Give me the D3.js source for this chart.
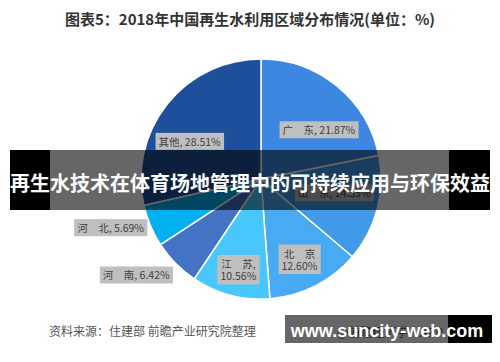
<!DOCTYPE html>
<html><head><meta charset="utf-8">
<script src="https://cdn.jsdelivr.net/npm/d3@7"></script>
<style>body{margin:0;background:#fff}svg{display:block}</style>
</head><body><svg id="c" width="500" height="362"></svg>
<script>
// ---- data ----
const title = "图表5：2018年中国再生水利用区域分布情况(单位：%)";
const categories = ["广　东", "山　东", "北　京", "江　苏", "河　南", "河　北", "其他"];
const values = [21.87, 14.35, 12.60, 10.56, 6.42, 5.69, 28.51];
const source = "资料来源：住建部 前瞻产业研究院整理";
const banner = "再生水技术在体育场地管理中的可持续应用与环保效益";
const watermark = "www.suncity-web.com";
const appMark = "@前瞻经济学人APP";

// ---- style ----
const colors = ["#3d87e0", "#3f9be9", "#47aaf2", "#48c7fc", "#4472c4", "#00b0f0", "#1e4f9a"];
const labelStyle = [
  {r: 85, dx: 4, dy: 17, wrap: false},
  {r: 85, dx: -9, dy: -7, wrap: false},
  {r: 85, dx: 0, dy: 5, wrap: true, sep: ""},
  {r: 85, dx: -1, dy: 9, wrap: true, sep: ","},
  {r: 160, dx: -11, dy: -16, wrap: false},
  {r: 160, dx: -3, dy: -13, wrap: false},
  {r: 85, dx: -5, dy: 16, wrap: false}
];
const cx = 261, cy = 179, R = 120;
const cjk = "'Noto Sans CJK SC', 'Noto Sans', sans-serif";

const svg = d3.select("#c");
svg.append("rect").attr("width", 500).attr("height", 362).attr("fill", "#fff");

svg.append("text").attr("x", 250).attr("y", 25).attr("text-anchor", "middle")
  .attr("font-family", cjk).attr("font-weight", "bold").attr("font-size", 15)
  .attr("fill", "#333").text(title);

const data = categories.map((c, i) => ({name: c, value: values[i], i}));
const pie = d3.pie().value(d => d.value).sort(null);
const arcs = pie(data);
const arc = d3.arc().innerRadius(0).outerRadius(R);

const g = svg.append("g").attr("transform", `translate(${cx},${cy})`);
g.selectAll("path").data(arcs).join("path")
  .attr("d", arc).attr("fill", d => colors[d.data.i])
  .attr("stroke", "#fff").attr("stroke-width", 1.5);

// labels
arcs.forEach(a => {
  const st = labelStyle[a.data.i];
  const la = d3.arc().innerRadius(st.r).outerRadius(st.r);
  const [x0, y0] = la.centroid(a);
  const x = x0 + st.dx, y = y0 + st.dy;
  const pct = a.data.value.toFixed(2) + "%";
  const lines = st.wrap ? [a.data.name + st.sep, pct] : [a.data.name + ", " + pct];
  const lg = g.append("g");
  const box = lg.append("rect").attr("fill", "#bfbfbf");
  const t = lg.append("text").attr("text-anchor", "middle")
    .attr("font-family", cjk).attr("font-size", 10.5).attr("fill", "#404040");
  const lh = 12.5;
  lines.forEach((ln, k) => {
    t.append("tspan").attr("x", x)
      .attr("y", y + 4 + (k - (lines.length - 1) / 2) * lh).text(ln);
  });
  const bb = t.node().getBBox();
  box.attr("x", bb.x - 3).attr("y", bb.y - 1).attr("width", bb.width + 6).attr("height", bb.height + 2);
});

// source
svg.append("text").attr("x", 49).attr("y", 336)
  .attr("font-family", cjk).attr("font-size", 12).attr("fill", "#555").text(source);

// app mark beneath watermark overlay
svg.append("text").attr("x", 337).attr("y", 337)
  .attr("font-family", cjk).attr("font-size", 12).attr("fill", "#555").text(appMark);

// banner overlay
svg.append("rect").attr("x", 10).attr("y", 150).attr("width", 480).attr("height", 60).attr("fill", "rgba(0,0,0,0.6)");
svg.append("rect").attr("x", 10).attr("y", 150).attr("width", 40).attr("height", 60).attr("fill", "#000");
svg.append("rect").attr("x", 449).attr("y", 150).attr("width", 41).attr("height", 60).attr("fill", "#000");
svg.append("text").attr("x", 250).attr("y", 191).attr("text-anchor", "middle")
  .attr("font-family", cjk).attr("font-weight", "bold").attr("font-size", 20)
  .attr("fill", "#fff").text(banner);

// watermark overlay
svg.append("rect").attr("x", 285).attr("y", 315).attr("width", 207).attr("height", 28).attr("fill", "rgba(0,0,0,0.6)");
svg.append("rect").attr("x", 448).attr("y", 315).attr("width", 44).attr("height", 28).attr("fill", "#000");
svg.append("text").attr("x", 387).attr("y", 337).attr("text-anchor", "middle")
  .attr("font-family", "'Liberation Sans', Arial, sans-serif").attr("font-weight", "bold").attr("font-size", 18)
  .attr("fill", "#fff").text(watermark);
</script></body></html>
